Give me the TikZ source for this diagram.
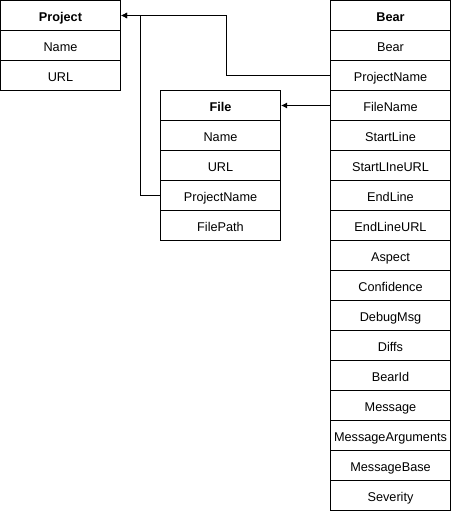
\documentclass[tikz,border=0pt]{standalone}
\usepackage{fontspec}
\setmainfont{Liberation Sans}
\usepackage{tikz}
\usetikzlibrary{arrows.meta, positioning}
\tikzset{
  field/.style = {rectangle, draw, line width=1pt, minimum width=120pt, minimum height=30pt, inner sep=0pt, text height=15pt, text depth=3pt, align=center, font=\fontsize{12.7}{15}\selectfont},
  tablehead/.style = {field, font=\fontsize{12.7}{15}\selectfont\bfseries},
  link/.style = {draw, line width=1pt, -{Latex[length=6pt,width=6pt]}}
}
\begin{document}
\begin{tikzpicture}[x=1pt, y=-1pt]
    \useasboundingbox (0,0) rectangle (451,511);
    % Project
    \node[tablehead] (proj0) at (60.5,15.5) {Project};
    \foreach \t [count=\i] in {Name, URL}
        \node[field] (proj\i) at (60.5,15.5+30*\i) {\t};
    % File
    \node[tablehead] (file0) at (220.5,105.5) {File};
    \foreach \t [count=\i] in {Name, URL, ProjectName, FilePath}
        \node[field] (file\i) at (220.5,105.5+30*\i) {\t};
    % Bear
    \node[tablehead] (bear0) at (390.5,15.5) {Bear};
    \foreach \t [count=\i] in {Bear, ProjectName, FileName, StartLine, StartLIneURL, EndLine, EndLineURL, Aspect, Confidence, DebugMsg, Diffs, BearId, Message, MessageArguments, MessageBase, Severity}
        \node[field] (bear\i) at (390.5,15.5+30*\i) {\t};
    % links
    \coordinate (bendA) at (226.5,75.5);
    \coordinate (bendB) at (140.5,195.5);
    \draw[link] (bear2.west) -- (bendA) |- (proj0.east);
    \draw[link] (file3.west) -- (bendB) |- (proj0.east);
    \draw[link] (bear3.west) -- (file0.east);
\end{tikzpicture}
\end{document}
